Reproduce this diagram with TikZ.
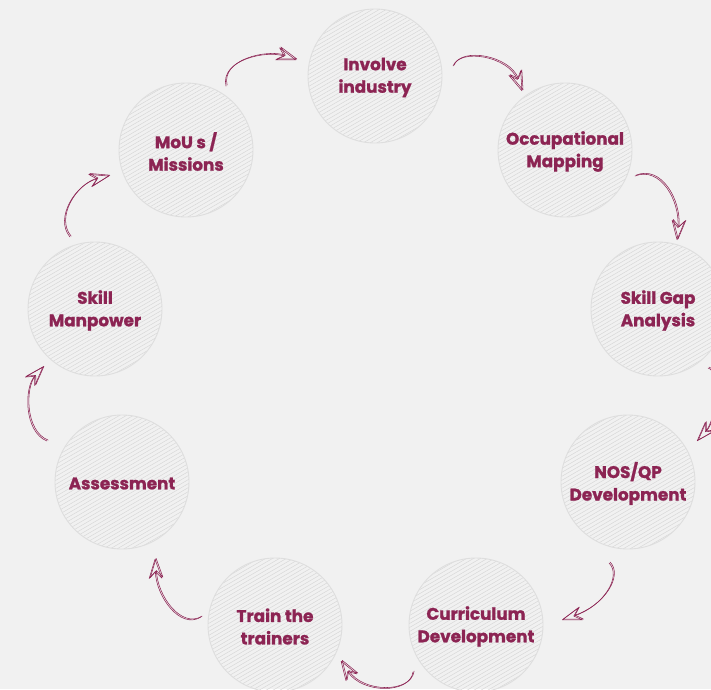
\documentclass[tikz,border=0pt]{standalone}
\usepackage{fontspec}
\setmainfont{Poppins}[BoldFeatures={FakeBold=1.3}]
\usetikzlibrary{arrows.meta}
\definecolor{bg}{HTML}{F1F1F1}
\definecolor{maroon}{HTML}{8C2453}
\definecolor{ringc}{HTML}{DEDEDE}
\definecolor{hatchc}{HTML}{D6D6D6}
\tikzset{
  bubble/.style={circle, minimum size=134pt, inner sep=0pt, draw=ringc, line width=0.9pt},
  caption/.style={align=center, text=maroon, inner sep=0pt, font=\bfseries\fontsize{16.8}{22.5}\selectfont},
  hatchline/.style={draw=hatchc, line width=0.45pt},
  sketch/.style={draw=maroon, line width=0.55pt, line cap=round},
  sketchtip/.style={sketch, -{Stealth[open, length=21pt, width=14pt, inset=7.5pt, round]}},
}
\begin{document}
\begin{tikzpicture}[x=1pt,y=-1pt]
\fill[bg] (0,0) rectangle (711,689);
\useasboundingbox (0,0) rectangle (711,689);
\foreach \n/\x/\y/\t in {
  inv/375/76/{Involve\\industry},
  occ/565/150/{Occupational\\Mapping},
  gap/658/309/{Skill Gap\\Analysis},
  nos/628/482/{NOS/QP\\Development},
  cur/476/625/{Curriculum\\Development},
  trn/275/625/{Train the\\trainers},
  ass/122/482/{Assessment},
  man/95/309/{Skill\\Manpower},
  mou/186/150/{MoU s /\\Missions}}{
  \begin{scope}[shift={(\x,\y)}]
    \clip (0,0) circle (67);
    \foreach \k in {-21,...,21} \draw[hatchline] (-95,{4*\k+55}) -- (95,{4*\k-55});
  \end{scope}
  \node[bubble] (\n) at (\x,\y) {};
  \node[caption] (\n-t) at ([yshift=-1.5pt]\n.center) {\t};
}
% arrow end points
\coordinate (s1) at (453,66);  \coordinate (e1) at (522,91);
\coordinate (s2) at (635,176); \coordinate (e2) at (677,240);
\coordinate (s3) at (708,368); \coordinate (e3) at (697,441);
\coordinate (s4) at (609,563); \coordinate (e4) at (562,620);
\coordinate (s5) at (413,672); \coordinate (e5) at (341,661);
\coordinate (s6) at (201,617); \coordinate (e6) at (155,559);
\coordinate (s7) at (47,441);  \coordinate (e7) at (43,367);
\coordinate (s8) at (70,237);  \coordinate (e8) at (109,176);
\coordinate (s9) at (226,86);  \coordinate (e9) at (296,60);
\foreach \s/\e/\ca/\cb in {
  s1/e1/{(460,48)}/{(508,56)},
  s2/e2/{(660,166)}/{(680,200)},
  s3/e3/{(722,372)}/{(716,420)},
  s4/e4/{(622,576)}/{(604,606)},
  s5/e5/{(410,694)}/{(362,694)},
  s6/e6/{(180,630)}/{(156,596)},
  s7/e7/{(24,432)}/{(24,388)},
  s8/e8/{(54,218)}/{(76,184)},
  s9/e9/{(220,60)}/{(266,50)}}{
  \draw[sketchtip] (\s) .. controls \ca and \cb .. (\e);
  \draw[sketchtip, transform canvas={shift={(1.1pt,0.9pt)}}] (\s) .. controls \ca and \cb .. (\e);
}
\end{tikzpicture}
\end{document}
